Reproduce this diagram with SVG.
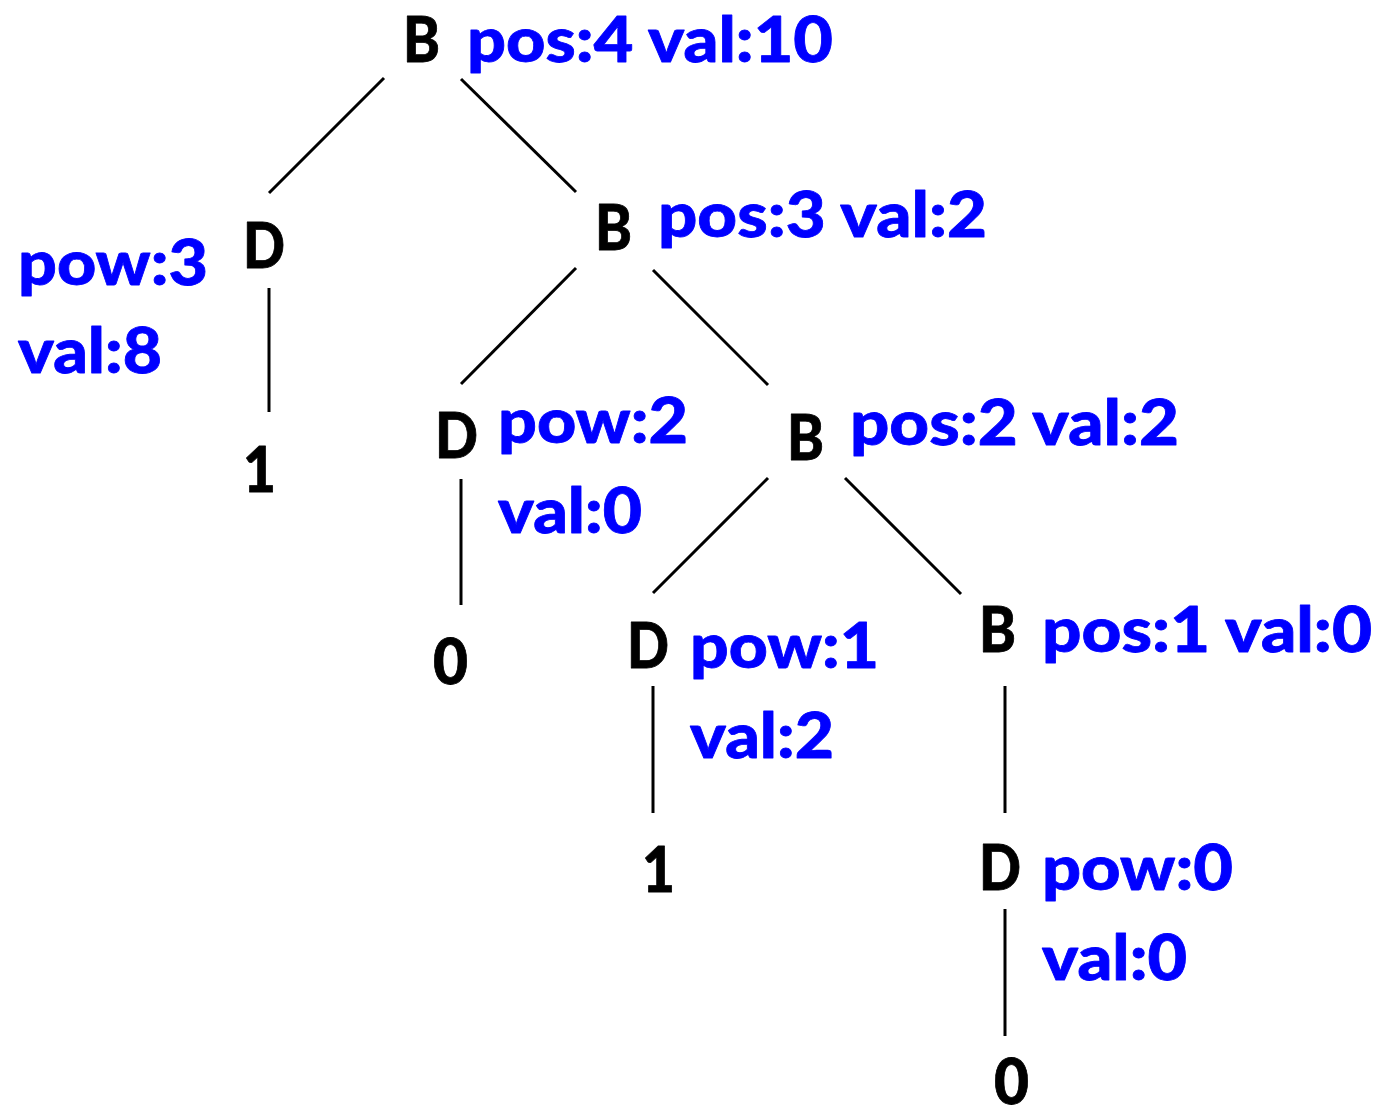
<svg xmlns="http://www.w3.org/2000/svg" width="1384" height="1118" viewBox="0 0 1384 1118">
  <style>
    text { font-family: Lato, "Open Sans", "Liberation Sans", sans-serif; font-weight: 900; font-size: 63px; stroke-width: 0.8; stroke-linejoin: round; }
    .lbl { fill: #000000; stroke: #000000; }
    .info { fill: #0000ff; stroke: #0000ff; }
    .edge { stroke: #000000; stroke-width: 3; fill: none; }
  </style>
  <rect width="1384" height="1118" fill="#ffffff"/>

  <!-- tree edges -->
  <g id="edges">
    <line class="edge" x1="384" y1="78" x2="269" y2="193"/>
    <line class="edge" x1="461" y1="79" x2="576" y2="192"/>
    <line class="edge" x1="269" y1="288" x2="269" y2="412"/>
    <line class="edge" x1="576" y1="268" x2="461" y2="384"/>
    <line class="edge" x1="653" y1="270" x2="768" y2="385"/>
    <line class="edge" x1="461" y1="479" x2="461" y2="605"/>
    <line class="edge" x1="768" y1="478" x2="653" y2="593"/>
    <line class="edge" x1="845" y1="478" x2="961" y2="594"/>
    <line class="edge" x1="653" y1="686" x2="653" y2="813"/>
    <line class="edge" x1="1005" y1="686" x2="1005" y2="813"/>
    <line class="edge" x1="1005" y1="909" x2="1005" y2="1036"/>
  </g>

  <!-- B nodes -->
  <g id="b4">
    <text class="lbl" x="403" y="62" textLength="37" lengthAdjust="spacingAndGlyphs">B</text>
    <text class="info" x="467" y="62" textLength="366" lengthAdjust="spacingAndGlyphs">pos:4 val:10</text>
  </g>
  <g id="b3">
    <text class="lbl" x="595" y="250" textLength="37" lengthAdjust="spacingAndGlyphs">B</text>
    <text class="info" x="658" y="237" textLength="329" lengthAdjust="spacingAndGlyphs">pos:3 val:2</text>
  </g>
  <g id="b2">
    <text class="lbl" x="787" y="460" textLength="37" lengthAdjust="spacingAndGlyphs">B</text>
    <text class="info" x="850" y="445" textLength="329" lengthAdjust="spacingAndGlyphs">pos:2 val:2</text>
  </g>
  <g id="b1">
    <text class="lbl" x="979" y="652" textLength="37" lengthAdjust="spacingAndGlyphs">B</text>
    <text class="info" x="1042" y="652" textLength="330" lengthAdjust="spacingAndGlyphs">pos:1 val:0</text>
  </g>

  <!-- D nodes -->
  <g id="d3">
    <text class="lbl" x="243" y="268" textLength="42" lengthAdjust="spacingAndGlyphs">D</text>
    <text class="info" x="18" y="285" textLength="190" lengthAdjust="spacingAndGlyphs">pow:3</text>
    <text class="info" x="18" y="373" textLength="144" lengthAdjust="spacingAndGlyphs">val:8</text>
  </g>
  <g id="d2">
    <text class="lbl" x="435" y="458" textLength="43" lengthAdjust="spacingAndGlyphs">D</text>
    <text class="info" x="498" y="443" textLength="190" lengthAdjust="spacingAndGlyphs">pow:2</text>
    <text class="info" x="498" y="533" textLength="144" lengthAdjust="spacingAndGlyphs">val:0</text>
  </g>
  <g id="d1">
    <text class="lbl" x="627" y="668" textLength="42" lengthAdjust="spacingAndGlyphs">D</text>
    <text class="info" x="690" y="668" textLength="189" lengthAdjust="spacingAndGlyphs">pow:1</text>
    <text class="info" x="690" y="758" textLength="144" lengthAdjust="spacingAndGlyphs">val:2</text>
  </g>
  <g id="d0">
    <text class="lbl" x="979" y="890" textLength="42" lengthAdjust="spacingAndGlyphs">D</text>
    <text class="info" x="1042" y="890" textLength="191" lengthAdjust="spacingAndGlyphs">pow:0</text>
    <text class="info" x="1042" y="980" textLength="145" lengthAdjust="spacingAndGlyphs">val:0</text>
  </g>

  <!-- leaf digits -->
  <g id="leaf3"><text class="lbl" x="243" y="492" textLength="33" lengthAdjust="spacingAndGlyphs">1</text></g>
  <g id="leaf2"><text class="lbl" x="433" y="684" textLength="35" lengthAdjust="spacingAndGlyphs">0</text></g>
  <g id="leaf1"><text class="lbl" x="642" y="892" textLength="33" lengthAdjust="spacingAndGlyphs">1</text></g>
  <g id="leaf0"><text class="lbl" x="994" y="1104" textLength="35" lengthAdjust="spacingAndGlyphs">0</text></g>
</svg>
